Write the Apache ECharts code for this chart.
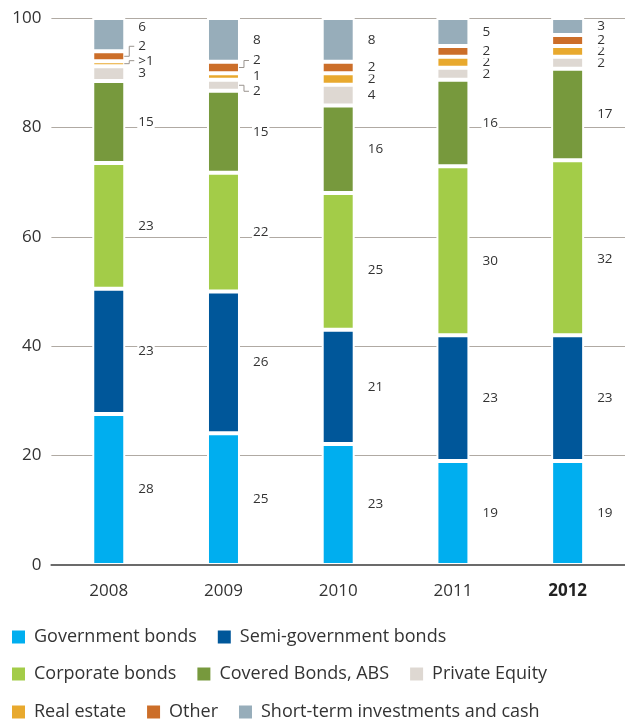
<!DOCTYPE html>
<html>
<head>
<meta charset="utf-8">
<style>
  html, body { margin: 0; padding: 0; background: #fff; }
  #chart { width: 625px; height: 720px; }
</style>
<script src="https://cdn.jsdelivr.net/npm/echarts@6/dist/echarts.min.js"></script>
</head>
<body>
<div id="chart"></div>
<script>
// ---------- data ----------
const years = ['2008', '2009', '2010', '2011', '2012'];
const yTicks = [0, 20, 40, 60, 80, 100];

const governmentBonds     = [27.6, 24.1, 22.1, 19.0, 19.0];
const semiGovernmentBonds = [22.9, 25.9, 20.9, 23.0, 23.0];
const corporateBonds      = [23.0, 21.7, 25.0, 30.9, 32.0];
const coveredBonds        = [15.0, 15.0, 16.0, 15.8, 16.7];
const privateEquity       = [2.7, 2.0, 3.8, 2.2, 2.2];
const realEstate          = [0.9, 1.2, 2.1, 2.0, 2.0];
const otherAssets         = [1.8, 2.1, 2.1, 2.0, 2.0];
const shortTerm           = [6.1, 8.0, 8.0, 5.1, 3.1];

const governmentLabels = ['28', '25', '23', '19', '19'];
const semiLabels       = ['23', '26', '21', '23', '23'];
const corporateLabels  = ['23', '22', '25', '30', '32'];
const coveredLabels    = ['15', '15', '16', '16', '17'];
const peLabels         = ['3', '2', '4', '2', '2'];
const realEstateLabels = ['>1', '1', '2', '2', '2'];
const otherLabels      = ['2', '2', '2', '2', '2'];
const shortTermLabels  = ['6', '8', '8', '5', '3'];

const seriesNames = ['Government bonds', 'Semi-government bonds', 'Corporate bonds',
  'Covered Bonds, ABS', 'Private Equity', 'Real estate', 'Other', 'Short-term investments and cash'];

// ---------- styling ----------
const FONT = '"Open Sans", "Noto Sans", sans-serif';
const TEXT = '#333333';
const BAR_W = 33;
const colors = ['#00aeef', '#00579a', '#a3cc48', '#77993d', '#ded8d2', '#e8a92e', '#cc6e29', '#97adba'];
const valueSets = [governmentBonds, semiGovernmentBonds, corporateBonds, coveredBonds,
  privateEquity, realEstate, otherAssets, shortTerm];
const labelSets = [governmentLabels, semiLabels, corporateLabels, coveredLabels,
  peLabels, realEstateLabels, otherLabels, shortTermLabels];

// vertical label shifts (px) keyed "seriesIndex-yearIndex"
const labelShift = { '7-0': -8, '6-0': -10, '5-0': -3, '6-1': -7, '4-1': 6, '2-2': 9, '2-3': 10, '2-4': 11 };
// labels with leader lines
const leaders = ['6-0', '5-0', '6-1', '4-1'];

const barSeries = valueSets.map((vals, s) => ({
  name: seriesNames[s],
  type: 'bar',
  stack: 'total',
  barWidth: BAR_W,
  itemStyle: { color: colors[s], borderColor: '#ffffff', borderWidth: 2 },
  label: {
    show: true,
    position: 'right',
    distance: 12,
    color: TEXT,
    fontFamily: FONT,
    fontSize: 13.5,
    backgroundColor: '#ffffff',
    padding: [0, 1],
    formatter: p => labelSets[s][p.dataIndex]
  },
  emphasis: { disabled: true },
  data: vals.map((v, i) => {
    const d = labelShift[s + '-' + i];
    return d ? { value: v, label: { offset: [0, d] } } : v;
  })
}));

// leader lines computed from cumulative stacks
const leaderData = leaders.map(key => {
  const [s, i] = key.split('-').map(Number);
  let lo = 0;
  for (let k = 0; k < s; k++) lo += valueSets[k][i];
  return [i, lo, lo + valueSets[s][i], labelShift[key] || 0];
});

const leaderSeries = {
  type: 'custom',
  silent: true,
  z: 5,
  data: leaderData,
  encode: { x: 0, y: 2 },
  renderItem: (params, api) => {
    const p = api.coord([api.value(0), (api.value(1) + api.value(2)) / 2]);
    const dy = api.value(3);
    const x0 = p[0] + BAR_W / 2 - 1;
    const y0 = p[1];
    return {
      type: 'polyline',
      shape: { points: [[x0, y0], [x0 + 5, y0], [x0 + 5, y0 + dy], [x0 + 10, y0 + dy]] },
      style: { stroke: '#9a948e', lineWidth: 1, fill: null }
    };
  }
};

const legendBase = {
  left: 10,
  padding: 0,
  itemWidth: 15,
  itemHeight: 15,
  itemGap: 19,
  icon: 'rect',
  selectedMode: false,
  textStyle: { color: TEXT, fontFamily: FONT, fontSize: 18, padding: [0, 0, 0, 3] }
};

const option = {
  animation: false,
  backgroundColor: '#ffffff',
  textStyle: { fontFamily: FONT },
  grid: { left: 51.4, right: -7.6, top: 18, bottom: 155, containLabel: false },
  legend: [
    Object.assign({}, legendBase, { top: 628, data: seriesNames.slice(0, 2) }),
    Object.assign({}, legendBase, { top: 665, data: seriesNames.slice(2, 5) }),
    Object.assign({}, legendBase, { top: 703, data: seriesNames.slice(5, 8) })
  ],
  xAxis: {
    type: 'category',
    data: years,
    z: 10,
    axisTick: { show: false },
    axisLine: { lineStyle: { color: '#6b6b6b', width: 2 } },
    axisLabel: {
      margin: 18,
      color: TEXT,
      fontFamily: FONT,
      fontSize: 17,
      formatter: v => v === '2012' ? '{b|' + v + '}' : v,
      rich: { b: { fontWeight: 'bold', color: '#222', fontFamily: FONT, fontSize: 17 } }
    }
  },
  yAxis: {
    type: 'value',
    min: yTicks[0],
    max: yTicks[yTicks.length - 1],
    interval: yTicks[1] - yTicks[0],
    axisLine: { show: false },
    axisTick: { show: false },
    axisLabel: { margin: 10, color: TEXT, fontFamily: FONT, fontSize: 17 },
    splitLine: { lineStyle: { color: '#b0aaa3', width: 1 } }
  },
  series: barSeries.concat([leaderSeries])
};

const chart = echarts.init(document.getElementById('chart'), null, { renderer: 'canvas' });
chart.setOption(option);
</script>
</body>
</html>
